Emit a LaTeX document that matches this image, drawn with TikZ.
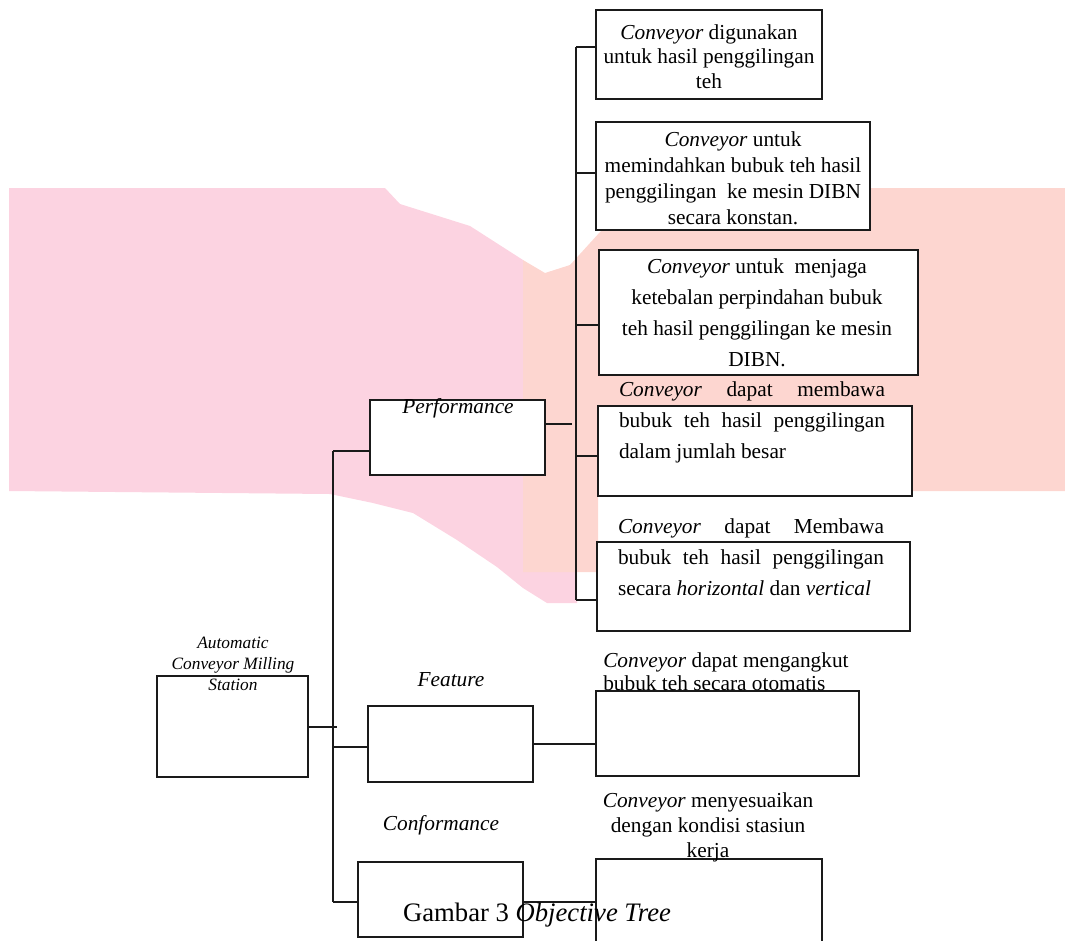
\documentclass[tikz,border=0pt]{standalone}
\usepackage{fontspec}
\setmainfont{Liberation Serif}
\usepackage{xcolor}
\usepackage{tikz}
\definecolor{ink}{HTML}{1A1A1A}
\definecolor{wmpink}{HTML}{FCD3E1}
\definecolor{wmpeach}{HTML}{FDD6D0}
\tikzset{
  box/.style={rectangle, draw=ink, fill=white, line width=0.9pt, inner sep=0pt, outer sep=0pt},
  conn/.style={draw=ink, line width=0.9pt},
  lab/.style={text=black, font=\fontsize{16}{18.5}\selectfont, align=center, inner sep=0pt},
  labw/.style={text=black, font=\fontsize{16}{23.25}\selectfont, align=center, inner sep=0pt},
  labj/.style={text=black, font=\fontsize{16}{23.25}\selectfont, align=justify, text width=199.5pt, inner sep=0pt},
  labi/.style={text=black, font=\fontsize{16}{19}\selectfont\itshape, inner sep=0pt},
  labs/.style={text=black, font=\fontsize{13}{15.75}\selectfont\itshape, align=center, inner sep=0pt},
  captxt/.style={text=black, font=\fontsize{20}{24}\selectfont, inner sep=0pt},
}

\begin{document}
\begin{tikzpicture}[x=0.75pt,y=-0.75pt]
  \useasboundingbox (0,0) rectangle (1065,940);

  % watermark band behind the tree
  \fill[wmpink] (9,188) -- (385,188) -- (400,204) -- (470,226) -- (523,260) -- (523,572)
    -- (577,572) -- (577,603) -- (547,603) -- (523,588) -- (497,567) -- (457,540)
    -- (413,513) -- (373,503) -- (330,494) -- (9,491) -- cycle;
  \fill[wmpeach] (523,260) -- (545,273) -- (570,265) -- (600,232) -- (640,200) -- (660,188)
    -- (1065,188) -- (1065,491) -- (598,491) -- (598,572) -- (523,572) -- cycle;

  % boxes
  \node[box, minimum width=113.25pt, minimum height=75.75pt] (root) at (232.5,726.5) {};
  \node[box, minimum width=131.25pt, minimum height=56.25pt] (perf) at (457.5,437.5) {};
  \node[box, minimum width=123.75pt, minimum height=57pt]    (feat) at (450.5,744) {};
  \node[box, minimum width=123.75pt, minimum height=56.25pt] (conf) at (440.5,899.5) {};

  \node[box, minimum width=169.5pt,  minimum height=66.75pt] (obj1) at (709,54.5) {};
  \node[box, minimum width=205.5pt,  minimum height=81pt]    (obj2) at (733,176) {};
  \node[box, minimum width=239.25pt, minimum height=93.75pt] (obj3) at (758.5,312.5) {};
  \node[box, minimum width=235.5pt,  minimum height=67.5pt]  (obj4) at (755,451) {};
  \node[box, minimum width=234.75pt, minimum height=66.75pt] (obj5) at (753.5,586.5) {};
  \node[box, minimum width=197.25pt, minimum height=63.75pt] (obj6) at (727.5,733.5) {};
  \node[box, minimum width=169.5pt,  minimum height=64.5pt]  (obj7) at (709,902) {};

  % trunk on the left
  \coordinate (rj) at (337,727);
  \coordinate (ltop) at (333,451);
  \coordinate (lfeat) at (333,747);
  \coordinate (lbot) at (333,902);
  \draw[conn] (rj -| root.east) -- (rj);
  \draw[conn] (ltop) -- (lbot);
  \draw[conn] (ltop) -- (ltop -| perf.west);
  \draw[conn] (lfeat) -- (lfeat -| feat.west);
  \draw[conn] (lbot) -- (lbot -| conf.west);

  % spine for performance
  \coordinate (pr) at (572,424);
  \coordinate (rtop) at (576,47);
  \coordinate (rbot) at (576,600);
  \draw[conn] (pr -| perf.east) -- (pr);
  \draw[conn] (rtop) -- (rbot);
  \foreach \y/\n in {47/obj1,173/obj2,325/obj3,456/obj4,600/obj5}{
    \draw[conn] (576,\y) -- (\n.west |- 576,\y);
  }

  \draw[conn] (feat.east) -- (feat.east -| obj6.west);
  \draw[conn] (conf.east |- lbot) -- (lbot -| obj7.west);

  % labels
  \node[labs] (rootlab) at (233,664) {Automatic\\Conveyor Milling\\Station};
  \node[labi] (perflab) at (458,408) {Performance};
  \node[labi] (featlab) at (451,680) {Feature};
  \node[labi] (conflab) at (441,825) {Conformance};

  \node[lab] (txt1) at (709,56.5) {\textit{Conveyor} digunakan\\untuk hasil penggilingan\\teh};
  \node[lab, font=\fontsize{16}{19.5}\selectfont] (txt2) at (733,178)
    {\textit{Conveyor} untuk\\memindahkan bubuk teh hasil\\penggilingan\ \ ke mesin DIBN\\secara konstan.};
  \node[labw] (txt3) at (757,313)
    {\textit{Conveyor} untuk\ \ menjaga\\ketebalan perpindahan bubuk\\teh hasil penggilingan ke mesin\\DIBN.};
  \node[labj] (txt4) at (752,422.5)
    {\textit{Conveyor} dapat membawa\linebreak bubuk teh hasil penggilingan\linebreak dalam jumlah besar};
  \node[labj] (txt5) at (751,557.5)
    {\textit{Conveyor} dapat Membawa\linebreak bubuk teh hasil penggilingan\linebreak secara \textit{horizontal} dan \textit{vertical}};
  \node[lab, align=left, anchor=west, font=\fontsize{16}{17.25}\selectfont] (txt6) at (603,671.5)
    {\textit{Conveyor} dapat mengangkut\\bubuk teh secara otomatis};
  \node[lab, font=\fontsize{16}{18.75}\selectfont] (txt7) at (708,827)
    {\textit{Conveyor} menyesuaikan\\dengan kondisi stasiun\\kerja};

  \node[captxt] (caption) at (537,915) {Gambar 3 \textit{Objective Tree}};
\end{tikzpicture}
\end{document}
